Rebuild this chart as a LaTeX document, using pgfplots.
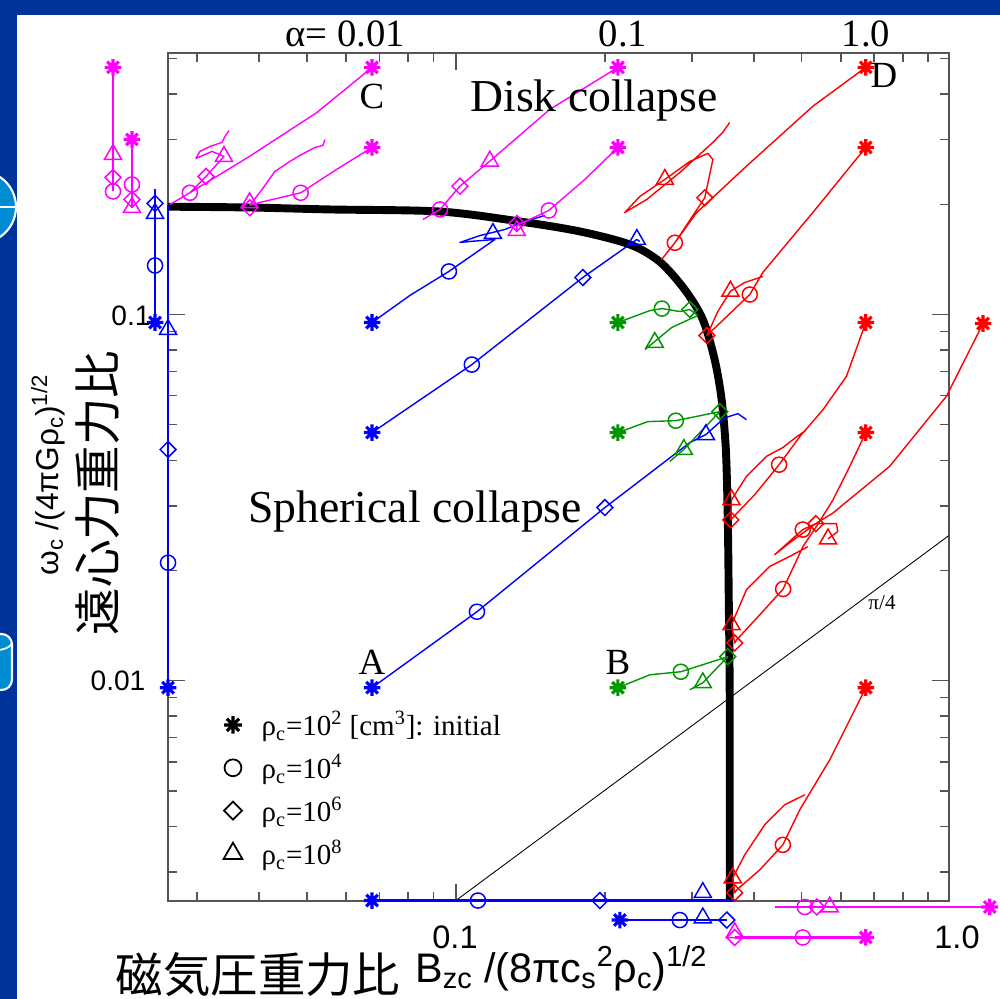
\documentclass[border=0pt]{standalone}
\usepackage{pgfplots}
\pgfplotsset{compat=1.18}
\usepackage{fontspec}
\setmainfont{Liberation Serif}
\setsansfont{Liberation Sans}
\newfontfamily\cjk{Noto Sans CJK JP}
\definecolor{slideblue}{RGB}{0,51,153}
\definecolor{iconblue}{RGB}{0,140,210}
\definecolor{mag}{RGB}{255,0,255}
\definecolor{grn}{RGB}{0,150,0}
\definecolor{framegray}{RGB}{85,85,85}

% eight-armed star for the initial states
\pgfdeclareplotmark{star8}{%
  \pgfpathmoveto{\pgfqpoint{0pt}{\pgfplotmarksize}}%
  \pgfpathlineto{\pgfqpoint{0pt}{-\pgfplotmarksize}}%
  \pgfpathmoveto{\pgfqpoint{\pgfplotmarksize}{0pt}}%
  \pgfpathlineto{\pgfqpoint{-\pgfplotmarksize}{0pt}}%
  \pgfpathmoveto{\pgfqpoint{.7\pgfplotmarksize}{.7\pgfplotmarksize}}%
  \pgfpathlineto{\pgfqpoint{-.7\pgfplotmarksize}{-.7\pgfplotmarksize}}%
  \pgfpathmoveto{\pgfqpoint{.7\pgfplotmarksize}{-.7\pgfplotmarksize}}%
  \pgfpathlineto{\pgfqpoint{-.7\pgfplotmarksize}{.7\pgfplotmarksize}}%
  \pgfusepathqstroke}

\pgfplotsset{
  traj/.style={line width=0.8pt, mark=none, line join=round, forget plot},
  st/.style={only marks, mark=star8, mark size=4.7pt, line width=1.8pt},
  ci/.style={only marks, mark=o, mark size=4.3pt, line width=0.85pt},
  di/.style={only marks, mark=square, mark size=3.2pt, mark options={rotate=45}, line width=0.85pt},
  tr/.style={only marks, mark=triangle, mark size=5.6pt, line width=0.85pt},
}

\begin{document}
\begin{tikzpicture}
% slide background (pixel grid, origin top left)
\begin{scope}[x=0.02cm,y=-0.02cm]
\fill[slideblue] (0,0) rectangle (1000,999);
\fill[white] (17,15) rectangle (1000,999);
% slide ornaments on the left border
\begin{scope}
\clip (0,0) rectangle (17,999);
\filldraw[fill=iconblue, draw=white, line width=1.2pt] (-20,207) circle (36);
\draw[white, line width=1pt] (-56,207) -- (16,207);
\filldraw[fill=iconblue, draw=white, line width=1.2pt, rounded corners=6] (-30,634) rectangle (12,690);
\draw[white, line width=1pt] (-30,646) .. controls (-10,652) and (5,652) .. (12,644);
\end{scope}
\end{scope}

\begin{axis}[
  at={(3.36cm,-18.014cm)}, anchor=south west,
  scale only axis, width=15.62cm, height=16.946cm,
  xmode=log, ymode=log,
  xmin=0.02619, xmax=0.991, ymin=0.00251, ymax=0.5165,
  clip=false,
  axis line style={draw=framegray, line width=1.1pt},
  tick style={draw=framegray, line width=0.8pt},
  major tick length=0.34cm, minor tick length=0.18cm,
  tick align=inside,
  xtick={0.1}, ytick={0.01,0.1},
  minor xtick={0.03,0.04,0.05,0.06,0.07,0.08,0.09,0.2,0.3,0.4,0.5,0.6,0.7,0.8,0.9},
  minor ytick={0.003,0.004,0.005,0.006,0.007,0.008,0.009,0.02,0.03,0.04,0.05,0.06,0.07,0.08,0.09,0.2,0.3,0.4,0.5},
  xticklabels={}, yticklabels={},
  legend style={draw=none, fill=none, at={(rel axis cs:0.064,0.232)}, anchor=north west,
    font=\fontsize{16.5}{19}\selectfont, row sep=5pt},
  legend cell align=left,
]
\addlegendimage{st, black, mark size=5pt}
\addlegendentry{\hspace{9pt}ρ\textsubscript{c}=10\textsuperscript{2} [cm\textsuperscript{3}]: initial}
\addlegendimage{ci, black, mark size=4.8pt, line width=1pt}
\addlegendentry{\hspace{9pt}ρ\textsubscript{c}=10\textsuperscript{4}}
\addlegendimage{di, black, mark size=3.6pt, line width=1pt}
\addlegendentry{\hspace{9pt}ρ\textsubscript{c}=10\textsuperscript{6}}
\addlegendimage{tr, black, mark size=6.2pt, line width=1pt}
\addlegendentry{\hspace{9pt}ρ\textsubscript{c}=10\textsuperscript{8}}

% critical boundary between disk and spherical collapse
\addplot[black, line width=4.5pt, smooth, tension=0.5, forget plot] coordinates {
(0.0262,0.197) (0.0384,0.196) (0.0557,0.1936) (0.0929,0.1911) (0.1346,0.1795)
(0.178,0.1686) (0.2246,0.1553) (0.258,0.1395) (0.290,0.1170) (0.3155,0.0969)
(0.3334,0.0753) (0.3443,0.0586) (0.3512,0.0428) (0.3544,0.0275) (0.3560,0.01663)
(0.3576,0.00887) (0.3576,0.00251)};
% pi/4 line
\addplot[black, line width=0.5pt, forget plot] coordinates {(0.1,0.00251) (0.991,0.0249)};

% ---- A (blue)
\addplot[traj, blue] coordinates {(0.0677,0.0951) (0.0807,0.1127) (0.0968,0.1311) (0.1199,0.1603) (0.1067,0.1583) (0.1019,0.1573) (0.1118,0.1643) (0.1256,0.1707) (0.1379,0.1795) (0.1512,0.1864)};
\addplot[traj, blue] coordinates {(0.0677,0.0476) (0.1077,0.0730) (0.1805,0.1262) (0.2321,0.1603) (0.2353,0.1583)};
\addplot[traj, blue] coordinates {(0.0677,0.00957) (0.1103,0.01543) (0.2,0.0297) (0.2970,0.0447) (0.3200,0.0470) (0.3490,0.0522) (0.3716,0.0536) (0.3866,0.0516)};
\addplot[traj, blue, line width=1.2pt] coordinates {(0.02466,0.2195) (0.02466,0.0951)};
\addplot[traj, blue, line width=1.2pt] coordinates {(0.0262,0.199) (0.0262,0.00957)};
\addplot[traj, blue, line width=1.4pt] coordinates {(0.0677,0.00251) (0.366,0.00251)};
\addplot[traj, blue, line width=1.4pt] coordinates {(0.2145,0.00222) (0.3528,0.00222)};
\addplot[st, blue, forget plot] coordinates {(0.0677,0.0951) (0.0677,0.0476) (0.0677,0.00957) (0.0677,0.00251) (0.02466,0.0951) (0.0262,0.00957) (0.2145,0.00222)};
\addplot[ci, blue, forget plot] coordinates {(0.0968,0.1311) (0.1077,0.0730) (0.1103,0.01543) (0.02466,0.1361) (0.0262,0.0210) (0.1108,0.00251) (0.2835,0.00222)};
\addplot[di, blue, forget plot] coordinates {(0.1805,0.1262) (0.2,0.0297) (0.02466,0.2011) (0.0262,0.0428) (0.1954,0.00251) (0.3528,0.00222)};
\addplot[tr, blue, forget plot] coordinates {(0.1188,0.1664) (0.2321,0.1603) (0.3200,0.0470) (0.02466,0.1888) (0.0262,0.0910) (0.3155,0.00264) (0.3155,0.00225)};

% ---- B (green)
\addplot[traj, grn] coordinates {(0.2125,0.0951) (0.2466,0.1025) (0.2608,0.1038) (0.2835,0.1019) (0.2970,0.1032) (0.3082,0.0994) (0.2731,0.0922) (0.2523,0.0844) (0.2409,0.0802)};
\addplot[traj, grn] coordinates {(0.2125,0.0476) (0.2443,0.0510) (0.2782,0.0513) (0.3415,0.0543) (0.2888,0.0428) (0.2706,0.0397)};
\addplot[traj, grn] coordinates {(0.2125,0.00957) (0.2466,0.01038) (0.2848,0.01058) (0.3544,0.01163) (0.3155,0.00987) (0.2970,0.00945)};
\addplot[st, grn, forget plot] coordinates {(0.2125,0.0951) (0.2125,0.0476) (0.2125,0.00957)};
\addplot[ci, grn, forget plot] coordinates {(0.2608,0.1038) (0.2782,0.0513) (0.2848,0.01058)};
\addplot[di, grn, forget plot] coordinates {(0.2970,0.1032) (0.3415,0.0543) (0.3544,0.01163)};
\addplot[tr, grn, forget plot] coordinates {(0.2523,0.0839) (0.2888,0.0428) (0.3155,0.00987)};

% ---- C (magenta)
\addplot[traj, mag] coordinates {(0.0677,0.473) (0.0523,0.3557) (0.03835,0.2707) (0.0290,0.2150) (0.02644,0.1998) (0.0290,0.2150) (0.03126,0.2382) (0.03399,0.2702) (0.03215,0.2789) (0.02983,0.2668) (0.03039,0.2789) (0.03184,0.2877) (0.03368,0.2951) (0.03415,0.3063) (0.03479,0.3181)};
\addplot[traj, mag] coordinates {(0.0677,0.2859) (0.0574,0.2490) (0.04857,0.2150) (0.04018,0.2023) (0.03835,0.1986) (0.04057,0.2195) (0.04308,0.2459) (0.04619,0.2618) (0.04840,0.2719) (0.05190,0.2859) (0.05386,0.2895) (0.05437,0.3006)};
\addplot[traj, mag] coordinates {(0.2125,0.473) (0.1548,0.3632) (0.1171,0.2623) (0.1019,0.2241) (0.0929,0.1936) (0.0858,0.1818)};
\addplot[traj, mag] coordinates {(0.2125,0.2859) (0.1822,0.2338) (0.1541,0.1924) (0.1328,0.1751) (0.1328,0.1696)};
\addplot[traj, mag, line width=1.2pt] coordinates {(0.02028,0.473) (0.02028,0.2168)};
\addplot[traj, mag, line width=1.2pt] coordinates {(0.02215,0.3006) (0.02215,0.196)};
\addplot[traj, mag, line width=1.4pt] coordinates {(0.4409,0.00241) (1.199,0.00241)};
\addplot[traj, mag, line width=1.4pt] coordinates {(0.366,0.00199) (0.6734,0.00199)};
\addplot[st, mag, forget plot] coordinates {(0.0677,0.473) (0.0677,0.2859) (0.2125,0.473) (0.2125,0.2859) (0.02028,0.473) (0.02215,0.3006) (1.199,0.00241) (0.6734,0.00199)};
\addplot[ci, mag, forget plot] coordinates {(0.0290,0.2150) (0.04857,0.2150) (0.0929,0.1936) (0.1541,0.1924) (0.02028,0.2168) (0.02215,0.2265) (0.5071,0.00241) (0.5023,0.00199)};
\addplot[di, mag, forget plot] coordinates {(0.03126,0.2382) (0.03835,0.1957) (0.1019,0.2241) (0.1328,0.1773) (0.02028,0.2367) (0.02215,0.2062) (0.5361,0.00241) (0.366,0.00199)};
\addplot[tr, mag, forget plot] coordinates {(0.03399,0.2702) (0.0383,0.2020) (0.1171,0.2623) (0.1328,0.1696) (0.02028,0.2736) (0.02215,0.196) (0.5695,0.00241) (0.366,0.00205)};

% ---- D (red)
\addplot[traj, red] coordinates {(0.6734,0.473) (0.5270,0.3709) (0.3866,0.2542) (0.3063,0.1896) (0.2770,0.1570) (0.2604,0.1413) (0.2770,0.1570) (0.3184,0.2084) (0.3306,0.2651) (0.3229,0.2754) (0.2970,0.2618) (0.2644,0.2338) (0.2353,0.2101) (0.2194,0.1899) (0.2431,0.2062) (0.2835,0.2443) (0.3306,0.2951) (0.3462,0.3143) (0.3576,0.3346)};
\addplot[traj, red] coordinates {(0.6734,0.2859) (0.5263,0.1899) (0.4171,0.1303) (0.3926,0.1134) (0.3215,0.0876) (0.3383,0.1019) (0.3588,0.1158) (0.3835,0.1223) (0.4171,0.1270)};
\addplot[traj, red] coordinates {(0.6734,0.0951) (0.6156,0.0678) (0.5521,0.0550) (0.4953,0.0464) (0.4499,0.0389) (0.4018,0.03223) (0.3627,0.02789) (0.3594,0.0275) (0.3606,0.0312) (0.3866,0.03615) (0.4243,0.0410) (0.4578,0.04331) (0.4885,0.0464) (0.5095,0.04823)};
\addplot[traj, red] coordinates {(0.6734,0.0476) (0.6252,0.03850) (0.5784,0.0312) (0.5354,0.02640) (0.5030,0.02327) (0.4584,0.01780) (0.4113,0.01514) (0.3695,0.01294) (0.3660,0.01268) (0.3606,0.01422) (0.3866,0.01773) (0.4308,0.02052) (0.4728,0.02185) (0.5142,0.02323)};
\addplot[traj, red] coordinates {(1.162,0.0945) (0.980,0.0598) (0.7527,0.03850) (0.5784,0.02872) (0.5337,0.02685) (0.5023,0.02586) (0.4409,0.02210) (0.4728,0.02382) (0.5337,0.02685) (0.5875,0.02685) (0.5910,0.02554) (0.5650,0.02439)};
\addplot[traj, red] coordinates {(0.6734,0.00957) (0.6252,0.00782) (0.5695,0.00608) (0.4953,0.00444) (0.4578,0.003563) (0.4113,0.003045) (0.3695,0.002685) (0.3660,0.002635) (0.3627,0.002895) (0.3835,0.003346) (0.4209,0.004044) (0.4619,0.004584) (0.5071,0.004881)};
\addplot[st, red, forget plot] coordinates {(0.6734,0.473) (0.6734,0.2859) (0.6734,0.0951) (0.6734,0.0476) (0.6734,0.00957) (1.162,0.0945)};
\addplot[ci, red, forget plot] coordinates {(0.2770,0.1570) (0.3926,0.1134) (0.4499,0.0389) (0.4584,0.01780) (0.5023,0.02586) (0.4578,0.003563)};
\addplot[di, red, forget plot] coordinates {(0.3184,0.2084) (0.3215,0.0876) (0.3594,0.0275) (0.3660,0.01268) (0.5337,0.02685) (0.3660,0.002635)};
\addplot[tr, red, forget plot] coordinates {(0.2644,0.2338) (0.3588,0.1158) (0.3606,0.0312) (0.3606,0.01422) (0.5650,0.02439) (0.3627,0.002895)};
\end{axis}

\begin{scope}[x=0.02cm,y=-0.02cm]
% annotations inside the frame
\node[inner sep=0, anchor=base west, font=\fontsize{26}{30}\selectfont] at (470,112) {Disk collapse};
\node[inner sep=0, anchor=base west, font=\fontsize{26}{30}\selectfont] at (248,522) {Spherical collapse};
\node[font=\fontsize{21}{24}\selectfont] at (372,96) {C};
\node[font=\fontsize{21}{24}\selectfont] at (884,75) {D};
\node[font=\fontsize{21}{24}\selectfont] at (372,662) {A};
\node[font=\fontsize{21}{24}\selectfont] at (618,662) {B};
\node[font=\fontsize{12}{14}\selectfont] at (882,603) {π/4};

% alpha scale along the top
\node[inner sep=0, anchor=base west, font=\fontsize{22}{24}\selectfont] at (285,47) {α=\ 0.01};
\node[anchor=base, font=\fontsize{22}{24}\selectfont] at (623,47) {0.1};
\node[anchor=base, font=\fontsize{22}{24}\selectfont] at (866,47) {1.0};

% tick labels
\node[font=\sffamily\fontsize{18.5}{20}\selectfont] at (455,937) {0.1};
\node[font=\sffamily\fontsize{18.5}{20}\selectfont] at (957,937) {1.0};
\node[font=\sffamily\fontsize{16}{20}\selectfont] at (131,316) {0.1};
\node[font=\sffamily\fontsize{16}{20}\selectfont] at (118,681) {0.01};

% axis titles
\node[font=\cjk\fontsize{27}{30}\selectfont] at (258,975) {磁気圧重力比};
\node[inner sep=0, anchor=west, font=\sffamily\fontsize{23.5}{26}\selectfont] at (415,968) {B\textsubscript{zc} /(8πc\textsubscript{s}\textsuperscript{2}ρ\textsubscript{c})\textsuperscript{1/2}};
\node[rotate=90, font=\sffamily\fontsize{18}{20}\selectfont] at (48,475) {ω\textsubscript{c} /(4πGρ\textsubscript{c})\textsuperscript{1/2}};
\node[rotate=90, font=\cjk\fontsize{27}{30}\selectfont] at (98,493) {遠心力重力比};

\pgfresetboundingbox
\useasboundingbox (0,0) rectangle (1000,999);
\end{scope}
\end{tikzpicture}
\end{document}
